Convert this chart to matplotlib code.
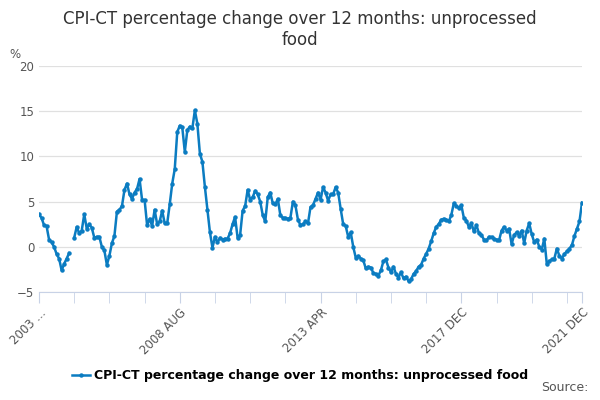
import matplotlib
matplotlib.use("Agg")
import matplotlib.pyplot as plt
import numpy as np

# Monthly values starting December 2003 (NaN = no data)
values = [
    3.6, 3.2, 2.4, 2.3, 0.8, 0.5, 0.0, -0.8, -1.3, -2.6, -1.9, -1.3, -0.7,
    np.nan,
    1.0, 2.2, 1.5, 1.8, 3.6, 2.0, 2.5, 2.1, 1.0, 1.1, 1.1, 0.0, -0.4, -2.0,
    -1.0, 0.4, 1.2, 3.9, 4.1, 4.5, 6.3, 7.0, 5.8, 5.3, 6.0, 6.4, 7.5, 5.2,
    5.2, 2.4, 3.1, 2.3, 4.1, 2.5, 2.8, 4.0, 2.6, 2.6, 4.7, 7.0, 8.6, 12.7,
    13.4, 13.2, 10.5, 12.9, 13.3, 13.1, 15.1, 13.6, 10.3, 9.4, 6.6, 4.1, 1.6,
    -0.1, 1.1, 0.5,
    1.0, 0.8, 0.9, 0.9, 1.5, 2.5, 3.3, 1.0, 1.3, 4.0,
    4.5, 6.3, 5.2, 5.5, 6.2, 5.8, 5.0, 3.5, 2.8, 5.5,
    6.0, 4.8, 4.7, 5.3, 3.5, 3.2, 3.2, 3.1, 3.2, 5.0,
    4.6, 3.0, 2.4, 2.5, 2.8, 2.6, 4.4, 4.6, 5.3, 6.0,
    5.2, 6.6, 6.0, 5.1, 5.8, 5.8, 6.6, 6.0, 4.2, 2.5,
    2.3, 1.1, 1.6, 0.0, -1.2, -1.0, -1.3, -1.5, -2.4, -2.2,
    -2.3, -2.9, -3.0, -3.2, -2.6, -1.6, -1.4, -2.3, -2.8,
    -2.2, -3.0, -3.4, -2.8, -3.5, -3.3, -3.8, -3.6, -3.0,
    -2.7, -2.2, -2.0, -1.3, -0.8, -0.2, 0.6, 1.5, 2.2, 2.5,
    3.0, 3.1, 3.0, 2.8, 3.5, 4.8, 4.5, 4.3, 4.6, 3.2,
    2.9, 2.2, 2.6, 1.7, 2.4, 1.5, 1.3, 0.8, 0.7, 1.1,
    1.1, 0.9, 0.8, 0.7, 1.8, 2.2, 1.8, 2.0, 0.3, 1.3,
    1.6, 1.2, 1.8, 0.4, 1.8, 2.6, 1.4, 0.5, 0.8, 0.0,
    -0.3, 0.9, -1.9, -1.6, -1.4, -1.3, -0.2, -1.0, -1.3, -0.8,
    -0.5, -0.2, 0.2, 1.2, 2.0, 2.8, 4.9,
]
tick_labels = ["2003 ...", "2008 AUG", "2013 APR", "2017 DEC", "2021 DEC"]
series_name = "CPI-CT percentage change over 12 months: unprocessed food"

color = "#0b7cc1"
n = len(values)
x = np.arange(n)

fig = plt.figure(figsize=(6, 4), dpi=100)
ax = fig.add_axes([0.065, 0.27, 0.905, 0.565])
ax.plot(x, values, color=color, linewidth=1.8, marker="o", markersize=2.2)

ax.set_ylim(-5, 20)
ax.set_yticks([-5, 0, 5, 10, 15, 20])
ax.set_xlim(0, n - 1)
minor = list(range(0, n, 14))
ax.set_xticks(minor, minor=True)
major = [0, 56, 112, 168, n - 1]
ax.set_xticks(major)
ax.set_xticklabels(tick_labels, rotation=45, ha="right", rotation_mode="anchor",
                   color="#555555", fontsize=8.5)
ax.tick_params(axis="x", which="both", length=8, color="#c8d2e6", pad=2)
ax.tick_params(axis="y", length=0, labelsize=8.5, labelcolor="#555555")
ax.grid(axis="y", color="#e0e0e0", linewidth=0.9)
for s in ["top", "right", "left"]:
    ax.spines[s].set_visible(False)
ax.spines["bottom"].set_color("#c8d2e6")
ax.set_axisbelow(True)

fig.text(0.5, 0.975, "CPI-CT percentage change over 12 months: unprocessed\nfood",
         ha="center", va="top", fontsize=12, color="#333333")
fig.text(0.015, 0.855, "%", fontsize=8.5, color="#555555")

ax.plot([], [], color=color, linewidth=1.8, marker="o", markersize=2.2, label=series_name)
ax.legend(loc="upper center", bbox_to_anchor=(0.5, 0.105), bbox_transform=fig.transFigure,
          frameon=False, prop={"weight": "bold", "size": 9},
          handlelength=1.5, handletextpad=0.3)
fig.text(0.98, 0.015, "Source:", ha="right", va="bottom", fontsize=9, color="#555555")

fig.savefig("out.png", dpi=100)
